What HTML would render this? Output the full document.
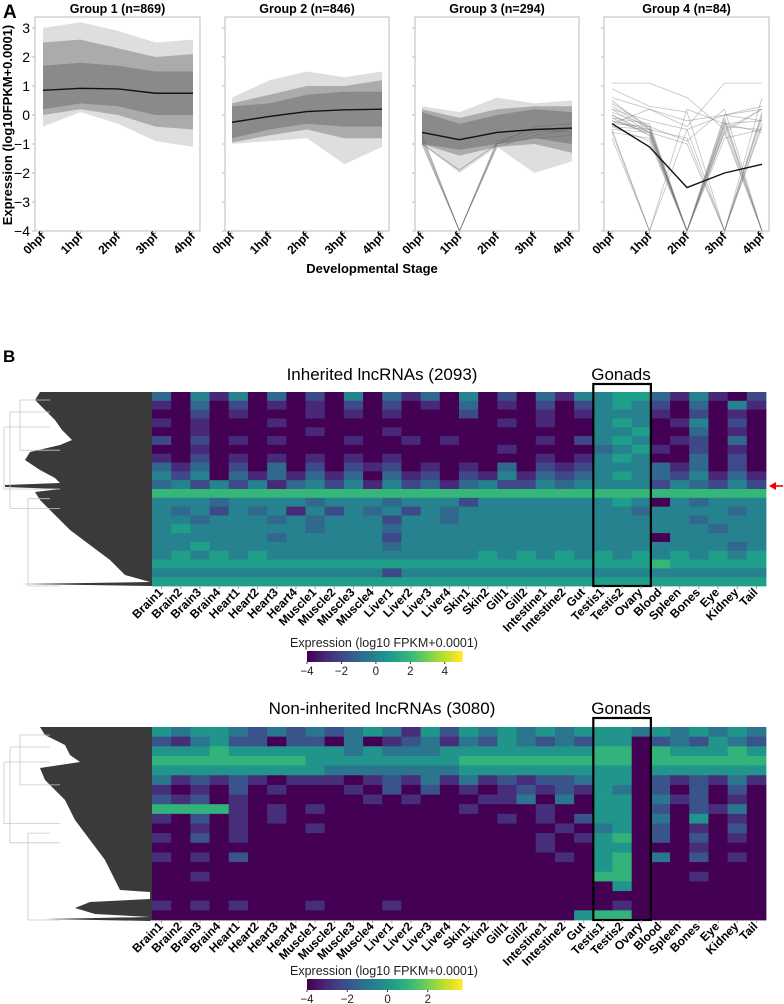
<!DOCTYPE html>
<html><head><meta charset="utf-8"><style>
html,body{margin:0;padding:0;background:#fff}
svg{display:block;font-family:"Liberation Sans","DejaVu Sans",sans-serif}
</style></head><body>
<svg id="fig" width="784" height="1004" viewBox="0 0 784 1004" xmlns="http://www.w3.org/2000/svg">
<text x="3" y="18" font-size="19" font-weight="bold">A</text>
<text x="3" y="362" font-size="17" font-weight="bold">B</text>
<text transform="translate(12,125) rotate(-90)" text-anchor="middle" font-size="13" font-weight="bold">Expression (log10FPKM+0.0001)</text>
<text x="372" y="273" text-anchor="middle" font-size="13" font-weight="bold">Developmental Stage</text>
<g id="panelA"></g>
<g id="panelB"></g>
</svg>
<script>
// ---------- Panel A data ----------
const stages = ["0hpf","1hpf","2hpf","3hpf","4hpf"];
const groupTitles = ["Group 1 (n=869)","Group 2 (n=846)","Group 3 (n=294)","Group 4 (n=84)"];
const yTicks = [3,2,1,0,-1,-2,-3,-4];
const meanG1 = [0.85,0.92,0.90,0.75,0.75];
const meanG2 = [-0.25,-0.05,0.12,0.18,0.20];
const meanG3 = [-0.6,-0.85,-0.6,-0.5,-0.45];
const meanG4 = [-0.3,-1.1,-2.5,-2.0,-1.7];
const outerHiG = [[3.0,3.2,2.9,2.5,2.6],[0.6,1.2,1.5,1.3,1.5],[0.3,0.1,0.6,0.4,0.5]];
const outerLoG = [[-0.4,0.1,-0.3,-0.9,-1.1],[-1.0,-0.9,-0.8,-1.7,-1.1],[-1.0,-2.0,-1.1,-2.0,-1.6]];
const midHiG = [[2.5,2.6,2.3,2.0,2.1],[0.4,0.7,1.0,1.0,1.2],[0.2,-0.1,0.2,0.3,0.3]];
const midLoG = [[0.0,0.2,0.0,-0.4,-0.5],[-0.95,-0.7,-0.5,-0.8,-0.8],[-1.0,-1.4,-1.1,-1.0,-1.3]];
const coreHiG = [[1.7,1.8,1.7,1.5,1.5],[0.3,0.4,0.7,0.8,0.8],[0.1,-0.3,0.0,0.2,0.1]];
const coreLoG = [[0.2,0.4,0.3,0.0,0.0],[-0.8,-0.5,-0.3,-0.4,-0.4],[-1.0,-1.2,-1.0,-0.8,-1.0]];
const spikeG3 = [[-0.9,-4,-1.0,-0.6,-0.5],[-1.0,-4,-0.9,-0.5,-0.6],[-0.7,-4,-1.0,-0.4,-0.3],[-0.8,-4,-1.1,-0.7,-0.5],[-1.0,-1.9,-1.0,-0.8,-0.7]];
const linesG4 = [[0.5,-0.5,-4,-0.8,-0.5],[0.2,-0.6,-4,0,-0.2],[-0.5,-4,0.2,-0.3,-0.2],[-0.2,-0.6,-4,-4,0.6],[0.3,-0.5,-0.8,-4,0],[0,-0.7,-4,-0.3,-4],[1.1,1.1,0.6,-0.5,0.2],[0.9,0.3,0.1,-4,0.1],[-0.4,-0.5,-4,-0.5,-4],[-0.3,0.2,-0.4,1.1,1.1],[-0.6,-4,-4,-0.3,-0.6],[0.4,-0.4,-0.9,0.2,-4],[-0.1,-0.7,-4,-0.6,-4],[-0.2,-0.5,-4,-0.4,-0.5],[0.0,-0.6,-1.0,-4,-0.3],[-0.5,-0.6,-4,-4,-4],[0.6,0.2,-0.2,0.0,0.3],[-0.8,-4,-0.5,0.0,0.2],[-0.3,-0.4,-4,-0.2,-4],[-0.1,-0.3,-4,-4,-0.1],[0.2,-0.2,-0.5,-4,-4],[-0.4,-0.9,-4,-0.6,0.2],[-0.6,-0.8,-4,-4,-0.4],[0.1,-0.4,-4,-0.1,-4]];
const means = [meanG1,meanG2,meanG3,meanG4];

// ---------- Panel B data ----------
const tissues = ["Brain1","Brain2","Brain3","Brain4","Heart1","Heart2","Heart3","Heart4","Muscle1","Muscle2","Muscle3","Muscle4","Liver1","Liver2","Liver3","Liver4","Skin1","Skin2","Gill1","Gill2","Intestine1","Intestine2","Gut","Testis1","Testis2","Ovary","Blood","Spleen","Bones","Eye","Kidney","Tail"];
const levelValues = [-4,-3,-2,-1,0,1,2,3,4,5];
const heat1Rows = [
"3041 4030 2040 3130 4020 314 455 314102","1030 2010 1020 2010 3010 202 454 203041","0020 1000 1010 1000 2000 101 444 102010",
"1010 0010 0000 0000 0010 100 454 014020","0010 0000 1000 1000 0000 000 445 003010","2020 1010 0010 0101 0000 102 454 012030",
"0010 0000 0000 0000 0010 000 345 102010","1020 1010 1010 1000 0000 101 454 003020","3130 2030 2021 2010 1030 212 444 313020",
"4240 3131 3130 3120 2141 323 454 324131","3424 2413 4241 4231 3422 434 444 243242","6666 6666 6666 6666 6666 666 666 666666",
"4443 4444 3444 3444 2444 444 454 043444","4342 4341 4243 4243 4444 444 443 444434","4434 4434 3444 2443 4444 444 444 443444",
"4544 4444 3444 3444 4444 444 444 444344","4444 4434 4444 2444 4444 444 444 044444","4454 4444 4444 3444 4444 444 444 444434",
"4545 4544 4444 4444 4545 454 545 454545","5555 5555 5555 5555 5555 555 555 655555","4444 4444 4444 2444 4444 444 444 444444",
"5555 5555 5555 5555 5555 555 555 555555"];
const heat2Rows = [
"4344 3232 3234 3142 4343 434 443 434343","2134 2202 2030 1231 3243 232 440 232432","4445 4444 4434 3334 4444 444 550 544454",
"5555 5555 4444 4444 5555 555 550 555555","4444 4444 4333 3333 4444 444 440 444444","3121 2101 1101 2131 3121 223 440 212131",
"1010 2010 0010 2020 1012 121 430 202020","2120 1000 0001 0100 0113 030 440 312010","5555 1010 1000 0000 1000 100 440 202130",
"1020 1010 0000 0000 0010 102 440 304010","0010 1000 1000 0000 0000 010 340 201020","1020 1000 0000 0000 0000 101 450 202010",
"0000 0000 0000 0000 0000 100 440 001000","1010 2000 0000 0000 0000 010 450 302010","0000 0000 0000 0000 0000 000 450 000000",
"0010 0000 0000 0000 0000 000 550 001000","0000 0000 0000 0000 0000 000 040 000000","0000 0000 0000 0000 0000 000 000 000000",
"1010 1000 1000 1000 0000 000 010 000000","0000 0000 0000 0000 0000 004 550 000000"];
const cbTicks1 = [-4,-2,0,2,4];
const cbTicks2 = [-4,-2,0,2];

const NS="http://www.w3.org/2000/svg";
function mk(tag,attrs,parent){const e=document.createElementNS(NS,tag);for(const k in attrs)e.setAttribute(k,attrs[k]);if(parent)parent.appendChild(e);return e;}

// ---------- Panel A ----------
const A=document.getElementById('panelA');
const frames=[[35,200,43,193],[225,389,232,382],[415,579,422,572],[604,769,612,762]];
const yTop=17,yBot=231;
function yS(v){return 115 - v*29;}
frames.forEach((f,g)=>{
  const [fx0,fx1,px0,px1]=f;
  const xS=i=>px0+i*(px1-px0)/(stages.length-1);
  const grp=mk('g',{},A);
  
  
  const t=mk('text',{x:(fx0+fx1)/2,y:13,'text-anchor':'middle','font-size':12.5,'font-weight':'bold'},grp);
  t.textContent=groupTitles[g];
  
  
  function band(hi,lo,fill){
    let pts=hi.map((v,i)=>xS(i)+','+yS(v));
    pts=pts.concat(lo.map((v,i)=>xS(i)+','+yS(v)).reverse());
    const p=mk('polygon',{points:pts.join(' '),fill:fill},grp);
    
    
  }
  function line(arr,stroke,w){
    return mk('polyline',{points:arr.map((v,i)=>xS(i)+','+yS(v)).join(' '),fill:'none',stroke:stroke,'stroke-width':w},grp);
  }
  if(g<3){
    band(outerHiG[g],outerLoG[g],'#dedede');
    band(midHiG[g],midLoG[g],'#ababab');
    band(coreHiG[g],coreLoG[g],'#8a8a8a');
    if(g===2){spikeG3.forEach(s=>{const l=line(s,'rgba(110,110,110,0.55)',0.8);});}
  } else {
    linesG4.forEach(s=>{const l=line(s,'rgba(120,120,120,0.45)',0.8);});
  }
  const m=line(means[g],'#111',1.4);
  
  
  const fr=mk('rect',{x:fx0,y:yTop,width:fx1-fx0,height:yBot-yTop,fill:'none',stroke:'#bbb','stroke-width':1},grp);
  
  
  stages.forEach((s,i)=>{
    const x=xS(i);
    mk('line',{x1:x,y1:yBot,x2:x,y2:yBot+3,stroke:'#bbb'},grp);
    const tl=mk('text',{transform:`translate(${x+3},${yBot+6}) rotate(-45)`,'text-anchor':'end','font-size':12,'font-weight':'bold'},grp);
    tl.textContent=s;
    
    
  });
  yTicks.forEach(v=>{
    mk('line',{x1:fx0-3,y1:yS(v),x2:fx0,y2:yS(v),stroke:'#bbb'},grp);
    if(g===0){
      const yl=mk('text',{x:fx0-5,y:yS(v)+5,'text-anchor':'end','font-size':14},grp);
      yl.textContent=v<0?'\u2212'+(-v):String(v);
      
      
    }
  });
});

// ---------- Panel B ----------
const B=document.getElementById('panelB');
const vstops=["#440154","#482878","#3e4989","#31688e","#26828e","#1f9e89","#35b779","#6ece58","#b5de2b","#fde725"];
function hex(h){return [1,3,5].map(i=>parseInt(h.substr(i,2),16));}
function viridis(t){t=Math.max(0,Math.min(1,t));const p=t*(vstops.length-1);const i=Math.min(Math.floor(p),vstops.length-2);const f=p-i;const a=hex(vstops[i]),b=hex(vstops[i+1]);return 'rgb('+a.map((c,k)=>Math.round(c+(b[k]-c)*f)).join(',')+')';}
const hx0=152,hx1=766;
const cw=(hx1-hx0)/tissues.length;

function heatmap(rows,y0,y1,vmin,vmax,title,titleY,boxTop,gonY,edge,cbY,cbTicks,name){
  const g=mk('g',{},B);
  
  
  const rh=(y1-y0)/rows.length;
  rows.forEach((raw,ri)=>{
    const r=raw.replace(/ /g,'');
    tissues.forEach((tn,ci)=>{
      const d=parseInt(r.charAt(ci)||'0',10);
      const v=levelValues[d];
      const c=mk('rect',{x:hx0+ci*cw,y:y0+ri*rh,width:cw+0.4,height:rh+0.4,fill:viridis((v-vmin)/(vmax-vmin))},g);
      
      
    });
  });
  const dg=mk('g',{},g);
  
  
  const pts=[hx0+','+y0].concat(edge.map(p=>p[1]+','+p[0])).concat([hx0+','+y1]);
  mk('polygon',{points:pts.join(' '),fill:'#3a3a3a'},dg);
  const tl=[[10,y0+20,y0+(y1-y0)*0.6],[4,y0+35,y0+(y1-y0)*0.5],[20,y0+8,y0+(y1-y0)*0.3],[28,y0+(y1-y0)*0.55,y1]];
  tl.forEach(l=>{mk('line',{x1:l[0],y1:l[1],x2:l[0],y2:l[2],stroke:'#c8c8c8','stroke-width':0.8},dg);mk('line',{x1:l[0],y1:l[1],x2:50,y2:l[1],stroke:'#c8c8c8','stroke-width':0.8},dg);mk('line',{x1:l[0],y1:l[2],x2:60,y2:l[2],stroke:'#c8c8c8','stroke-width':0.8},dg);});
  const tt=mk('text',{x:382,y:titleY,'text-anchor':'middle','font-size':17},g);
  tt.textContent=title;
  
  
  const gt=mk('text',{x:621,y:gonY,'text-anchor':'middle','font-size':17},g);
  gt.textContent='Gonads';
  
  
  const bx=mk('rect',{x:hx0+23*cw,y:boxTop,width:3*cw,height:y1-boxTop,fill:'none',stroke:'#000','stroke-width':2.2},g);
  
  
  tissues.forEach((tn,ci)=>{
    const cx=hx0+(ci+0.5)*cw;
    mk('line',{x1:cx,y1:y1,x2:cx,y2:y1+3,stroke:'#999'},g);
    const lb=mk('text',{transform:`translate(${cx+2},${y1+7}) rotate(-45)`,'text-anchor':'end','font-size':12,'font-weight':'bold'},g);
    lb.textContent=tn;
    
    
  });
  const cbx0=307,cbx1=462;
  const cl=mk('text',{x:384,y:cbY-4,'text-anchor':'middle','font-size':12.5,fill:'#222'},g);
  cl.textContent='Expression (log10 FPKM+0.0001)';
  
  
  const n=40;
  for(let i=0;i<n;i++){
    const s=mk('rect',{x:cbx0+i*(cbx1-cbx0)/n,y:cbY,width:(cbx1-cbx0)/n+0.5,height:11,fill:viridis(i/(n-1))},g);
    
    
  }
  cbTicks.forEach(v=>{
    const x=cbx0+(v-vmin)/(vmax-vmin)*(cbx1-cbx0);
    mk('line',{x1:x,y1:cbY+11,x2:x,y2:cbY+13,stroke:'#333'},g);
    const tk=mk('text',{x:x,y:cbY+24,'text-anchor':'middle','font-size':11.5,fill:'#222'},g);
    tk.textContent=v<0?'\u2212'+(-v):String(v);
    
    
  });
}
const edge1=[[392,40],[400,35],[410,45],[420,55],[430,62],[440,72],[445,60],[452,30],[460,25],[470,40],[478,55],[483,60],[485,5],[487,5],[489,60],[492,35],[500,40],[515,55],[530,70],[545,90],[560,110],[575,125],[582,150],[584,20],[586,150]];
const edge2=[[727,40],[735,45],[745,65],[755,70],[762,80],[768,40],[780,45],[800,65],[820,75],[840,90],[860,105],[880,115],[890,120],[892,150],[899,150],[902,90],[908,75],[914,95],[917,150],[919,45],[921,150]];
heatmap(heat1Rows,392,586,-4,5,'Inherited lncRNAs (2093)',380,384,380,edge1,651,cbTicks1,'inherited-heatmap');
heatmap(heat2Rows,727,920,-4,3.7,'Non-inherited lncRNAs (3080)',714,718,714,edge2,979,cbTicks2,'non-inherited-heatmap');
const ar=mk('g',{},B);


mk('line',{x1:783,y1:486,x2:774,y2:486,stroke:'#e00','stroke-width':1.6},ar);
mk('polygon',{points:'769,486 776,482 776,490',fill:'#e00'},ar);
</script>
</body></html>
